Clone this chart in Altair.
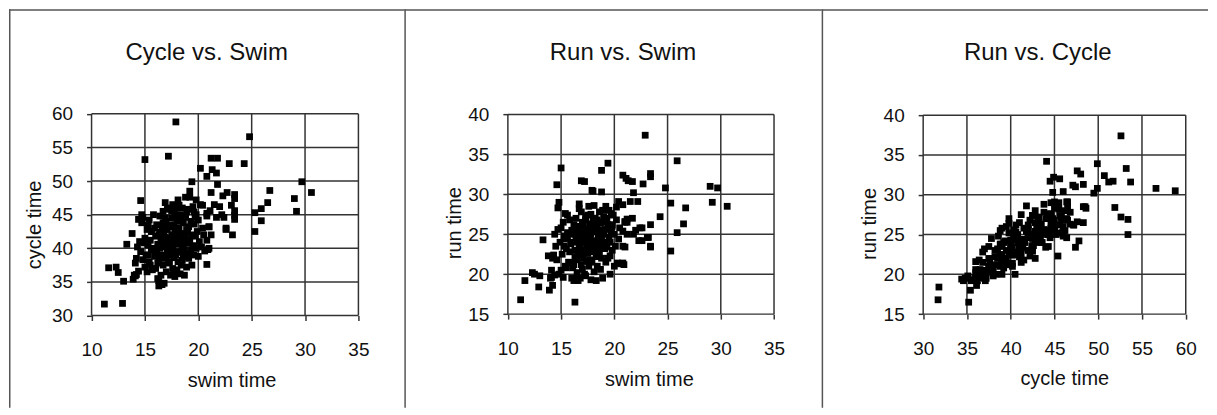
import altair as alt
import pandas as pd

# ---- data: (swim, cycle, run) per athlete ----
swim_out = [11.2, 12.9, 17.9, 24.8, 15.0, 17.2, 21.2, 21.8, 22.9, 24.3, 20.2, 21.3, 21.7, 20.8, 19.4,
            29.7, 21.8, 30.6, 26.7, 22.7, 23.4, 18.8, 23.4, 21.2, 14.6, 29.0, 26.5, 25.9, 29.2, 25.3,
            25.9, 25.3, 23.2, 22.6, 23.4, 21.1, 20.6, 20.8, 11.6, 12.3, 12.5, 13.0, 13.9, 14.2, 16.3,
            13.3, 13.8, 14.4, 16.3, 16.6, 14.1, 20.4, 21.5, 22.2, 23.4, 22.4, 21.0, 22.6, 21.2, 21.7,
            23.4, 20.8, 21.0, 20.9, 22.0, 18.0, 18.8, 16.9, 14.7, 14.8, 15.6, 16.7, 15.3, 19.2, 19.8,
            23.1, 22.3, 19.6]
cycle_out = [31.7, 31.8, 58.8, 56.6, 53.2, 53.7, 53.4, 53.4, 52.6, 52.6, 51.9, 51.7, 51.2, 50.7, 49.9,
             49.9, 49.5, 48.3, 48.6, 48.3, 48.0, 47.6, 47.4, 48.3, 47.1, 47.4, 46.8, 45.9, 45.5, 45.3,
             44.1, 42.5, 42.0, 43.0, 44.9, 45.6, 39.6, 37.6, 37.1, 37.2, 36.4, 35.1, 35.4, 36.1, 35.2,
             40.6, 42.2, 44.3, 34.4, 34.6, 35.9, 46.4, 46.5, 45.0, 45.6, 44.6, 43.2, 42.8, 42.0, 44.6,
             44.3, 45.2, 40.0, 39.8, 46.2, 46.0, 44.8, 44.5, 45.0, 44.6, 42.5, 43.8, 39.0, 48.5, 47.2,
             46.4, 47.8, 45.4]
run_out = [16.8, 18.4, 30.5, 30.8, 33.3, 31.6, 26.9, 25.0, 37.4, 27.2, 28.4, 31.7, 31.6, 32.4, 33.9,
           30.8, 30.2, 28.5, 28.3, 31.3, 32.6, 33.0, 23.4, 26.5, 31.2, 31.0, 26.3, 25.2, 29.0, 28.9,
           34.2, 22.9, 24.6, 25.8, 32.2, 32.0, 21.3, 21.4, 19.2, 20.2, 20.0, 19.8, 18.0, 18.6, 16.5,
           24.3, 22.3, 25.0, 19.4, 19.2, 19.6, 29.1, 29.1, 29.1, 26.2, 25.8, 26.5, 24.2, 25.0, 27.0,
           23.5, 28.7, 23.4, 21.2, 25.5, 30.4, 30.3, 31.7, 28.3, 29.0, 27.4, 28.8, 23.5, 28.5, 26.2,
           24.6, 24.2, 22.3]

swim_core = [14.0, 14.1, 14.2, 14.3, 14.4, 14.5, 14.6, 14.7, 14.8, 14.9, 15.0, 15.0, 15.1, 15.2, 15.2,
             15.3, 15.4, 15.4, 15.5, 15.5, 15.6, 15.6, 15.7, 15.8, 15.8, 15.9, 16.0, 16.0, 16.1, 16.1,
             16.2, 16.2, 16.3, 16.3, 16.4, 16.4, 16.5, 16.5, 16.6, 16.6, 16.7, 16.7, 16.7, 16.8, 16.8,
             16.9, 16.9, 17.0, 17.0, 17.0, 17.1, 17.1, 17.2, 17.2, 17.3, 17.3, 17.3, 17.4, 17.4, 17.5,
             17.5, 17.5, 17.6, 17.6, 17.6, 17.7, 17.7, 17.8, 17.8, 17.8, 17.9, 17.9, 18.0, 18.0, 18.0,
             18.1, 18.1, 18.1, 18.2, 18.2, 18.3, 18.3, 18.3, 18.4, 18.4, 18.5, 18.5, 18.6, 18.6, 18.7,
             18.7, 18.8, 18.8, 18.9, 18.9, 19.0, 19.0, 19.1, 19.1, 19.2, 19.2, 19.3, 19.3, 19.4, 19.4,
             19.5, 19.5, 19.6, 19.6, 19.7, 19.8, 19.8, 19.9, 20.0, 20.0, 20.1, 20.2, 20.3, 20.4, 20.5,
             20.8, 20.8, 21.0, 16.9, 17.2, 17.4, 17.6, 17.8, 18.0, 18.2, 18.4, 18.6, 18.8, 17.0, 16.8,
             16.4, 17.9, 18.9, 19.2, 16.2, 15.9, 17.7, 18.5, 19.0, 17.3, 16.6, 18.7, 17.5, 16.0, 19.7,
             18.2, 15.3, 17.1]
cycle_core = [36.0, 37.8, 38.5, 40.2, 36.6, 41.0, 39.5, 43.8, 38.3, 40.8, 37.2, 41.5, 39.0, 42.8, 36.5,
              40.5, 38.0, 44.2, 41.2, 37.5, 39.8, 42.5, 36.8, 40.0, 45.0, 38.8, 41.8, 37.0, 43.5, 39.2,
              40.6, 35.5, 42.0, 38.2, 44.8, 40.0, 36.0, 41.5, 39.0, 43.0, 37.5, 45.5, 40.8, 34.8, 42.3,
              38.5, 46.8, 41.0, 36.5, 44.0, 39.5, 42.8, 37.8, 40.5, 45.8, 43.2, 38.0, 41.5, 36.0, 39.8,
              44.5, 42.0, 37.0, 46.5, 40.2, 43.5, 38.6, 41.2, 35.8, 45.2, 39.0, 42.6, 36.8, 44.0, 40.6,
              47.2, 38.0, 41.8, 43.0, 39.5, 36.2, 45.0, 41.0, 37.5, 42.2, 40.0, 46.0, 38.8, 43.8, 41.5,
              36.0, 44.6, 39.2, 42.8, 37.2, 40.8, 45.8, 38.5, 43.2, 41.2, 47.6, 39.8, 44.0, 42.0, 37.5,
              40.4, 46.2, 43.6, 39.0, 41.8, 45.0, 40.0, 42.5, 44.2, 38.8, 41.0, 46.5, 40.2, 43.0, 42.0,
              41.2, 44.8, 43.2, 41.6, 43.4, 39.0, 41.0, 42.8, 39.4, 41.4, 44.2, 40.6, 42.0, 38.8, 40.2,
              42.4, 44.8, 45.4, 39.2, 37.8, 43.0, 36.4, 38.2, 42.4, 40.4, 41.2, 39.8, 45.6, 39.6, 44.6,
              46.4, 43.4, 46.0]
run_core = [19.5, 20.5, 22.0, 22.4, 19.9, 23.5, 21.8, 25.6, 20.0, 24.0, 20.5, 25.8, 22.5, 26.5, 19.6,
            24.8, 21.0, 27.6, 23.2, 20.8, 25.2, 24.5, 21.5, 22.8, 26.8, 23.8, 25.5, 19.5, 24.0, 20.8,
            26.2, 19.2, 23.0, 22.2, 27.0, 24.3, 20.2, 21.8, 25.8, 26.0, 23.5, 28.2, 22.5, 19.5, 24.8,
            21.2, 27.8, 26.5, 20.6, 25.2, 23.0, 22.0, 24.5, 20.0, 26.8, 27.2, 19.8, 24.2, 21.6, 22.6,
            24.6, 25.6, 23.2, 28.5, 21.0, 26.3, 24.8, 27.5, 19.3, 25.0, 21.5, 23.6, 22.8, 27.0, 25.3,
            26.2, 20.3, 28.6, 24.0, 26.0, 19.2, 25.8, 22.2, 21.0, 26.8, 23.8, 24.8, 25.5, 27.8, 24.4,
            20.6, 26.5, 22.0, 28.0, 19.5, 25.0, 27.2, 23.2, 25.6, 21.5, 26.6, 27.0, 23.4, 26.2, 22.0,
            24.6, 28.0, 24.0, 20.0, 25.4, 26.0, 23.0, 27.4, 25.0, 21.0, 23.5, 26.8, 21.4, 24.4, 25.8,
            23.5, 25.4, 26.6, 24.0, 25.0, 23.8, 24.4, 25.4, 24.2, 23.4, 25.6, 22.8, 24.6, 22.4, 23.4,
            25.0, 26.0, 25.2, 24.0, 21.2, 25.0, 21.8, 23.0, 23.6, 25.6, 22.6, 26.4, 27.4, 21.4, 27.6,
            27.0, 24.4, 26.0]

# tick values of each axis
swim_ticks = [10, 15, 20, 25, 30, 35]
cycle_ticks_y = [30, 35, 40, 45, 50, 55, 60]
cycle_ticks_x = [30, 35, 40, 45, 50, 55, 60]
run_ticks = [15, 20, 25, 30, 35, 40]

df = pd.DataFrame({
    "swim": swim_out + swim_core,
    "cycle": cycle_out + cycle_core,
    "run": run_out + run_core,
})

FONT = "Liberation Sans"
TXT = "#111111"
GRID = "#333333"
FRAME = "#555555"
H = 399


def panel(xcol, ycol, xdom, ydom, xticks, yticks, xrange, yrange, W, title, tdx,
          xtitle, ytitle, xt_x, xt_y, yt_x, yt_y, left_line=True):
    xs = alt.Scale(domain=xdom, range=xrange, nice=False, zero=False)
    ys = alt.Scale(domain=ydom, range=yrange, nice=False, zero=False)
    xaxis = alt.Axis(values=xticks, orient="bottom", offset=yrange[0] - H, grid=False,
                     domain=False, ticks=True, tickSize=5, tickWidth=1.5, tickColor=GRID,
                     labelFontSize=19, labelFont=FONT, labelColor=TXT, labelPadding=20,
                     labelFlush=False, labelOverlap=False,
                     title=xtitle, titleFont=FONT, titleFontSize=20, titleFontWeight="normal",
                     titleColor=TXT, titleX=xt_x, titleY=xt_y, titleBaseline="alphabetic",
                     titleAlign="center")
    yaxis = alt.Axis(values=yticks, orient="left", offset=-xrange[0], grid=False,
                     domain=False, ticks=True, tickSize=5, tickWidth=1.5, tickColor=GRID,
                     labelFontSize=19, labelFont=FONT, labelColor=TXT, labelPadding=14,
                     labelFlush=False, labelOverlap=False,
                     title=ytitle, titleFont=FONT, titleFontSize=20, titleFontWeight="normal",
                     titleColor=TXT, titleX=yt_x, titleY=yt_y, titleBaseline="middle",
                     titleAlign="center", titleAngle=270)

    vgrid = alt.Chart(pd.DataFrame({"v": xticks})).mark_rule(color=GRID, strokeWidth=1.5).encode(
        x=alt.X("v:Q", scale=xs, axis=xaxis),
        y=alt.YDatum(ydom[0], scale=ys, axis=yaxis),
        y2=alt.Y2Datum(ydom[1]),
    )
    hgrid = alt.Chart(pd.DataFrame({"v": yticks})).mark_rule(color=GRID, strokeWidth=1.5).encode(
        y=alt.Y("v:Q", scale=ys, axis=yaxis),
        x=alt.XDatum(xdom[0], scale=xs, axis=xaxis),
        x2=alt.X2Datum(xdom[1]),
    )
    pts = alt.Chart(df).mark_square(size=46, color="black", opacity=1).encode(
        x=alt.X(f"{xcol}:Q", scale=xs, axis=xaxis),
        y=alt.Y(f"{ycol}:Q", scale=ys, axis=yaxis),
    )
    one = pd.DataFrame({"k": [0]})
    top = alt.Chart(one).mark_rule(color=FRAME, strokeWidth=1.5).encode(
        x=alt.value(0), x2=alt.value(W), y=alt.value(0.75))
    layers = [vgrid, hgrid, pts, top]
    if left_line:
        left = alt.Chart(one).mark_rule(color=FRAME, strokeWidth=1.5).encode(
            x=alt.value(0.75), y=alt.value(0), y2=alt.value(H))
        layers.append(left)
    return alt.layer(*layers).properties(
        width=W, height=H,
        title=alt.TitleParams(title, fontSize=24, font=FONT, fontWeight="normal", color=TXT,
                              anchor="middle", frame="group", offset=-76, dx=tdx,
                              baseline="alphabetic"),
    )


p1 = panel("swim", "cycle", [10, 35], [30, 60], swim_ticks, cycle_ticks_y,
           [82.7, 350], [306.7, 104.7], 396, "Cycle vs. Swim", 0,
           "swim time", "cycle time", 223, 71, -56.7, 215.5)
p2 = panel("swim", "run", [10, 35], [15, 40], swim_ticks, run_ticks,
           [103.7, 370.3], [305.3, 105.3], 418, "Run vs. Swim", 10,
           "swim time", "run time", 245, 71.5, -53.2, 213.7)
p3 = panel("cycle", "run", [30, 60], [15, 40], cycle_ticks_x, run_ticks,
           [101.7, 364.7], [305.3, 106], 387, "Run vs. Cycle", 23,
           "cycle time", "run time", 243, 70, -54.2, 214.5)

chart = alt.hconcat(p1, p2, p3, spacing=0, bounds="flush").properties(
    padding=0, background="white"
).configure_view(stroke=None)

chart.save("out.html", embed_options={"renderer": "svg", "actions": False})
